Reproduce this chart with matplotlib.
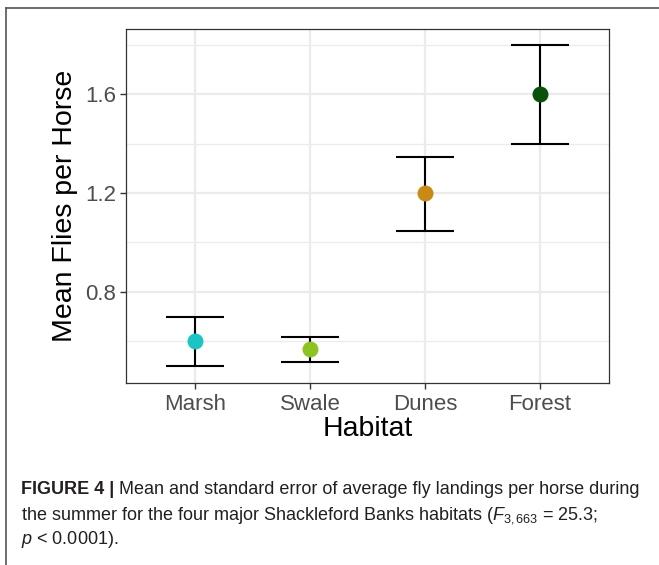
import matplotlib
matplotlib.use("Agg")
import matplotlib.pyplot as plt
from matplotlib import font_manager as fm

habitats = ["Marsh", "Swale", "Dunes", "Forest"]
means = [0.60, 0.57, 1.20, 1.60]
upper = [0.70, 0.618, 1.347, 1.80]
lower = [0.50, 0.518, 1.047, 1.40]
colors = ["#1CC4C4", "#8CC322", "#C98A15", "#0A520A"]
yticks = [0.8, 1.2, 1.6]
yminor = [0.6, 1.0, 1.4, 1.8]

names = {f.name for f in fm.fontManager.ttflist}
narrow = "Liberation Sans Narrow" if "Liberation Sans Narrow" in names else "Liberation Sans"
plt.rcParams['font.family'] = ['Liberation Sans', 'DejaVu Sans']
plt.rcParams['mathtext.fontset'] = 'custom'
plt.rcParams['mathtext.rm'] = narrow
plt.rcParams['mathtext.it'] = narrow + ':italic'

fig = plt.figure(figsize=(6.59, 5.65), dpi=100)
ax = fig.add_axes([126/659, 1-383/565, (609-126)/659, (383-29)/565])

x = list(range(1, len(habitats)+1))
ax.set_xlim(0.4, 4.6)
ax.set_ylim(0.432, 1.863)

for v in yticks + yminor:
    ax.axhline(v, color="#EBEBEB", lw=1.6 if v in yticks else 0.9, zorder=0)
for xi in x:
    ax.axvline(xi, color="#EBEBEB", lw=1.6, zorder=0)

for xi, m, u, l, c in zip(x, means, upper, lower, colors):
    ax.errorbar([xi], [m], yerr=[[m - l], [u - m]], fmt='none', ecolor='black',
                elinewidth=1.5, capsize=21, capthick=1.5, zorder=2)
    ax.plot([xi], [m], 'o', color=c, markersize=11.5, markeredgewidth=0, zorder=3)

ax.set_xticks(x)
ax.set_xticklabels(habitats)
ax.set_yticks(yticks)
ax.set_yticklabels([f"{v:.1f}" for v in yticks])
ax.tick_params(axis='both', colors='#333333', labelcolor='#4D4D4D', labelsize=16,
               length=4, width=1.0)
ax.tick_params(axis='x', pad=4)
ax.tick_params(axis='y', pad=3)
for s in ax.spines.values():
    s.set_color('#333333')
    s.set_linewidth(0.9)
ax.set_xlabel("Habitat", fontsize=20.5, labelpad=1)
ax.set_ylabel("Mean Flies per Horse", fontsize=20.5, labelpad=5)

# figure border (top and left)
fig.add_artist(plt.Line2D([6/659, 1.0], [1-8/565, 1-8/565], transform=fig.transFigure,
                          color='#555555', lw=1.2))
fig.add_artist(plt.Line2D([6/659, 6/659], [1-8/565, 0.0], transform=fig.transFigure,
                          color='#555555', lw=1.2))

cap_size = 13
t1 = fig.text(21/659, 1-494/565, "FIGURE 4 |", fontsize=cap_size, fontweight='bold',
              family=narrow, color='#231F20', va='baseline')
fig.canvas.draw()
ax.annotate(" Mean and standard error of average fly landings per horse during",
            xy=(1, 0), xycoords=t1, va='bottom', ha='left', fontsize=cap_size,
            family=narrow, color='#231F20', annotation_clip=False)
fig.text(21/659, 1-519/565,
         "the summer for the four major Shackleford Banks habitats ($F_{3,663}$ = 25.3;",
         fontsize=cap_size, family=narrow, color='#231F20', va='baseline')
fig.text(21/659, 1-544/565, "$p$ < 0.0001).", fontsize=cap_size, family=narrow,
         color='#231F20', va='baseline')

fig.savefig("out.png", dpi=100)
